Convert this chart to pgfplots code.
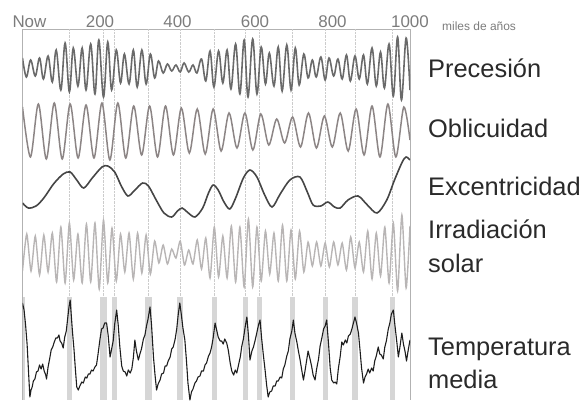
\documentclass[border=0pt]{standalone}
\usepackage{fontspec}
\setmainfont{Liberation Sans}
\usepackage{pgfplots}
\pgfplotsset{compat=1.18}
\definecolor{precc}{HTML}{6A6A6A}
\definecolor{oblc}{HTML}{8C8585}
\definecolor{eccc}{HTML}{454545}
\definecolor{irrc}{HTML}{B8B5B5}
\definecolor{tempc}{HTML}{1E1E1E}
\definecolor{bandc}{HTML}{D6D6D6}
\definecolor{labc}{HTML}{2A2A2A}
\definecolor{tickc}{HTML}{7C7C7C}
\begin{document}
\begin{tikzpicture}
\useasboundingbox (0,0) rectangle (588bp,-405bp);
\begin{axis}[
  at={(22.5bp,-29bp)}, anchor=north west,
  scale only axis, width=387.5bp, height=371bp,
  xmin=0, xmax=1000, ymin=29, ymax=400, y dir=reverse,
  axis x line=top, axis y line=box,
  x axis line style={-}, y axis line style={-},
  axis line style={draw=gray!60, line width=0.7pt},
  ytick=\empty,
  xtick={0,200,400,600,800,1000},
  xticklabels={\makebox[0pt][l]{\hspace{-10bp}Now},200,400,600,800,1000},
  major tick length=0pt,
  /pgf/number format/assume math mode=true,
  x tick label style={font=\fontsize{17}{17}\selectfont, text=tickc, inner sep=0pt, anchor=base, yshift=2bp},
  extra x ticks={122,209,238,325,406,496,575,611,697,781,858,955},
  extra x tick labels={},
  extra x tick style={grid=major, major grid style={densely dotted, gray!40, line width=0.6pt}},
]
% interglacial bands
\addplot[fill=bandc, draw=none] coordinates {(0,297) (7,297) (7,400) (0,400)};
\addplot[fill=bandc, draw=none] coordinates {(116,297) (129,297) (129,400) (116,400)};
\addplot[fill=bandc, draw=none] coordinates {(200,297) (218,297) (218,400) (200,400)};
\addplot[fill=bandc, draw=none] coordinates {(232,297) (244,297) (244,400) (232,400)};
\addplot[fill=bandc, draw=none] coordinates {(317,297) (334,297) (334,400) (317,400)};
\addplot[fill=bandc, draw=none] coordinates {(399,297) (414,297) (414,400) (399,400)};
\addplot[fill=bandc, draw=none] coordinates {(490,297) (503,297) (503,400) (490,400)};
\addplot[fill=bandc, draw=none] coordinates {(569,297) (582,297) (582,400) (569,400)};
\addplot[fill=bandc, draw=none] coordinates {(605,297) (617,297) (617,400) (605,400)};
\addplot[fill=bandc, draw=none] coordinates {(691,297) (703,297) (703,400) (691,400)};
\addplot[fill=bandc, draw=none] coordinates {(775,297) (788,297) (788,400) (775,400)};
\addplot[fill=bandc, draw=none] coordinates {(850,297) (865,297) (865,400) (850,400)};
\addplot[fill=bandc, draw=none] coordinates {(948,297) (961,297) (961,400) (948,400)};
% Precesion
\addplot[precc, line width=1.6pt, smooth, tension=0.6] coordinates {
(0,58)(10,77)(21,60)(33,76)(44,58)(54,79)(66,56)(77,82)(87,50)(99,90)(110,43)(121,92)(131,48)(143,86)(154,48)(164,90)(176,44)(187,94)(197,40)(209,97)(220,42)(230,90)(242,50)(253,83)(263,54)(275,84)(286,50)(296,87)(308,50)(319,84)(330,54)(341,78)(351,61)(363,73)(374,64)(385,71)(396,65)(407,72)(417,63)(429,72)(440,65)(450,73)(462,59)(473,81)(484,51)(494,87)(506,51)(517,83)(528,50)(538,89)(550,44)(561,94)(572,40)(582,97)(594,39)(605,94)(616,47)(627,84)(637,53)(649,86)(660,47)(670,91)(682,45)(693,90)(704,48)(714,85)(726,54)(737,78)(748,60)(758,77)(770,57)(781,80)(791,58)(803,76)(814,59)(825,79)(836,55)(846,81)(858,56)(869,79)(880,55)(890,84)(902,48)(913,86)(924,52)(934,88)(946,44)(957,96)(968,37)(978,100)(990,38)(1000,90)
};
% Oblicuidad
\addplot[oblc, line width=1.5pt, smooth] coordinates {
(0,107)(20.5,157)(41,104)(61.5,159)(82,103)(102.5,159)(123,104)(143.5,158)(164,105)(184.5,158)(205,103)(225.5,160)(246,103)(266.5,158)(287,106)(307.5,155)(328,106)(348.5,157)(369,106)(389.5,155)(410,108)(430.5,153)(451,109)(471.5,154)(492,109)(512.5,151)(533,113)(553.5,148)(574,113)(594.5,150)(615,114)(635.5,145)(656,119)(676.5,143)(697,117)(717.5,147)(738,113)(758.5,148)(779,116)(799.5,147)(820,113)(840.5,151)(861,109)(881.5,155)(902,106)(922.5,157)(943,104)(963.5,157)(984,107)(1000,140)
};
% Excentricidad
\addplot[eccc, line width=1.6pt, smooth] coordinates {
(0,203)(15,208)(35,206)(55,198)(80,184)(105,174)(123,172)(140,180)(158,188)(180,178)(205,167)(220,166)(238,172)(255,186)(272,196)(290,190)(310,183)(325,186)(345,200)(365,213)(385,217)(400,211)(412,208)(425,212)(445,217)(465,208)(480,193)(492,185)(505,190)(520,202)(535,209)(550,198)(570,178)(587,170)(605,177)(625,195)(644,207)(665,194)(690,180)(716,177)(735,192)(750,205)(770,206)(788,202)(805,207)(820,208)(840,200)(866,196)(890,205)(915,213)(940,200)(960,180)(980,162)(990,157)(1000,160)
};
% Irradiacion solar
\addplot[irrc, line width=1.4pt, smooth, tension=0.4] coordinates {
(0,271)(11,234)(22,271)(33,236)(44,275)(55,235)(66,272)(77,233)(88,282)(99,227)(110,283)(121,223)(132,280)(143,234)(154,283)(165,224)(176,282)(187,223)(198,289)(209,220)(220,283)(231,228)(242,281)(253,234)(264,272)(275,233)(286,279)(297,233)(308,273)(319,235)(330,274)(341,241)(352,263)(363,245)(374,264)(385,249)(396,258)(407,241)(418,265)(429,250)(440,264)(451,240)(462,269)(473,238)(484,278)(495,227)(506,277)(517,236)(528,278)(539,226)(550,282)(561,227)(572,287)(583,219)(594,287)(605,227)(616,281)(627,231)(638,274)(649,233)(660,281)(671,225)(682,281)(693,230)(704,279)(715,231)(726,272)(737,242)(748,266)(759,242)(770,266)(781,243)(792,267)(803,242)(814,265)(825,243)(836,270)(847,237)(858,268)(869,242)(880,272)(891,231)(902,279)(913,233)(924,276)(935,227)(946,283)(957,223)(968,291)(979,215)(990,288)(1000,226)
};
% Temperatura media
\addplot[tempc, line width=1.1pt, line join=round] coordinates {
(0,303)(4,310)(8,325)(12,345)(16,375)(19,397)(22,390)(25,387)(28,381)(32,379)(36,372)(40,371)(44,365)(48,369)(52,364)(56,371)(60,375)(62,379)(66,367)(70,359)(74,350)(78,347)(82,342)(86,338)(90,338)(94,335)(97,341)(101,343)(105,348)(109,337)(113,331)(117,317)(120,307)(123,300)(126,316)(129,332)(133,350)(137,372)(140,387)(144,390)(148,386)(153,382)(157,383)(162,377)(166,378)(170,374)(174,374)(178,370)(182,371)(187,367)(191,365)(195,354)(200,339)(204,329)(208,328)(212,323)(217,323)(221,335)(226,357)(230,349)(234,341)(238,324)(243,310)(247,325)(251,346)(256,366)(260,371)(265,372)(269,376)(273,370)(278,373)(282,369)(286,358)(290,340)(294,351)(299,360)(303,354)(307,349)(312,339)(316,335)(320,326)(324,319)(329,307)(333,325)(338,357)(342,375)(346,390)(350,384)(355,380)(359,374)(364,373)(368,366)(372,366)(376,361)(381,357)(385,349)(389,347)(394,339)(398,329)(402,314)(406,303)(410,315)(414,328)(419,340)(423,360)(427,383)(432,400)(436,392)(440,389)(445,383)(449,381)(453,377)(458,376)(462,371)(467,371)(471,365)(475,363)(480,356)(484,353)(488,347)(492,338)(497,323)(501,330)(505,337)(510,341)(514,341)(518,344)(522,339)(527,343)(531,350)(536,363)(540,371)(545,375)(549,370)(553,373)(558,364)(562,357)(566,346)(570,339)(575,326)(579,317)(583,335)(587,360)(592,351)(596,347)(600,341)(604,334)(609,325)(613,320)(617,338)(621,353)(626,370)(630,385)(634,397)(638,392)(643,391)(647,386)(652,386)(656,381)(660,381)(665,377)(669,378)(673,369)(677,365)(682,356)(686,351)(690,339)(695,331)(699,320)(703,333)(708,342)(712,351)(716,359)(721,371)(725,380)(729,371)(733,361)(737,351)(742,359)(746,366)(750,375)(755,380)(759,369)(764,359)(768,346)(772,339)(777,329)(781,326)(785,320)(790,345)(794,368)(798,380)(803,383)(807,382)(811,384)(815,369)(820,356)(824,342)(828,345)(833,340)(837,343)(841,336)(846,334)(850,329)(854,323)(858,317)(862,323)(867,333)(871,350)(875,368)(880,383)(884,377)(888,374)(892,369)(896,373)(901,368)(905,371)(909,361)(913,356)(918,347)(922,354)(926,355)(931,359)(935,347)(939,341)(944,329)(948,323)(952,314)(957,310)(961,325)(966,342)(970,357)(974,347)(979,333)(983,344)(987,351)(991,361)(995,351)(1000,340)
};
\end{axis}
\node[anchor=base west, inner sep=0pt, font=\fontsize{12}{12}\selectfont, text=tickc] at (442bp,-30bp) {miles de años};
\begin{scope}[every node/.style={anchor=base west, inner sep=0pt, font=\fontsize{25.5}{25.5}\selectfont, text=labc}]
\node at (428bp,-77bp) {Precesión};
\node at (428bp,-137bp) {Oblicuidad};
\node at (428bp,-195bp) {Excentricidad};
\node at (428bp,-238bp) {Irradiación};
\node at (428bp,-272bp) {solar};
\node at (428bp,-355bp) {Temperatura};
\node at (428bp,-388bp) {media};
\end{scope}
\end{tikzpicture}
\end{document}
